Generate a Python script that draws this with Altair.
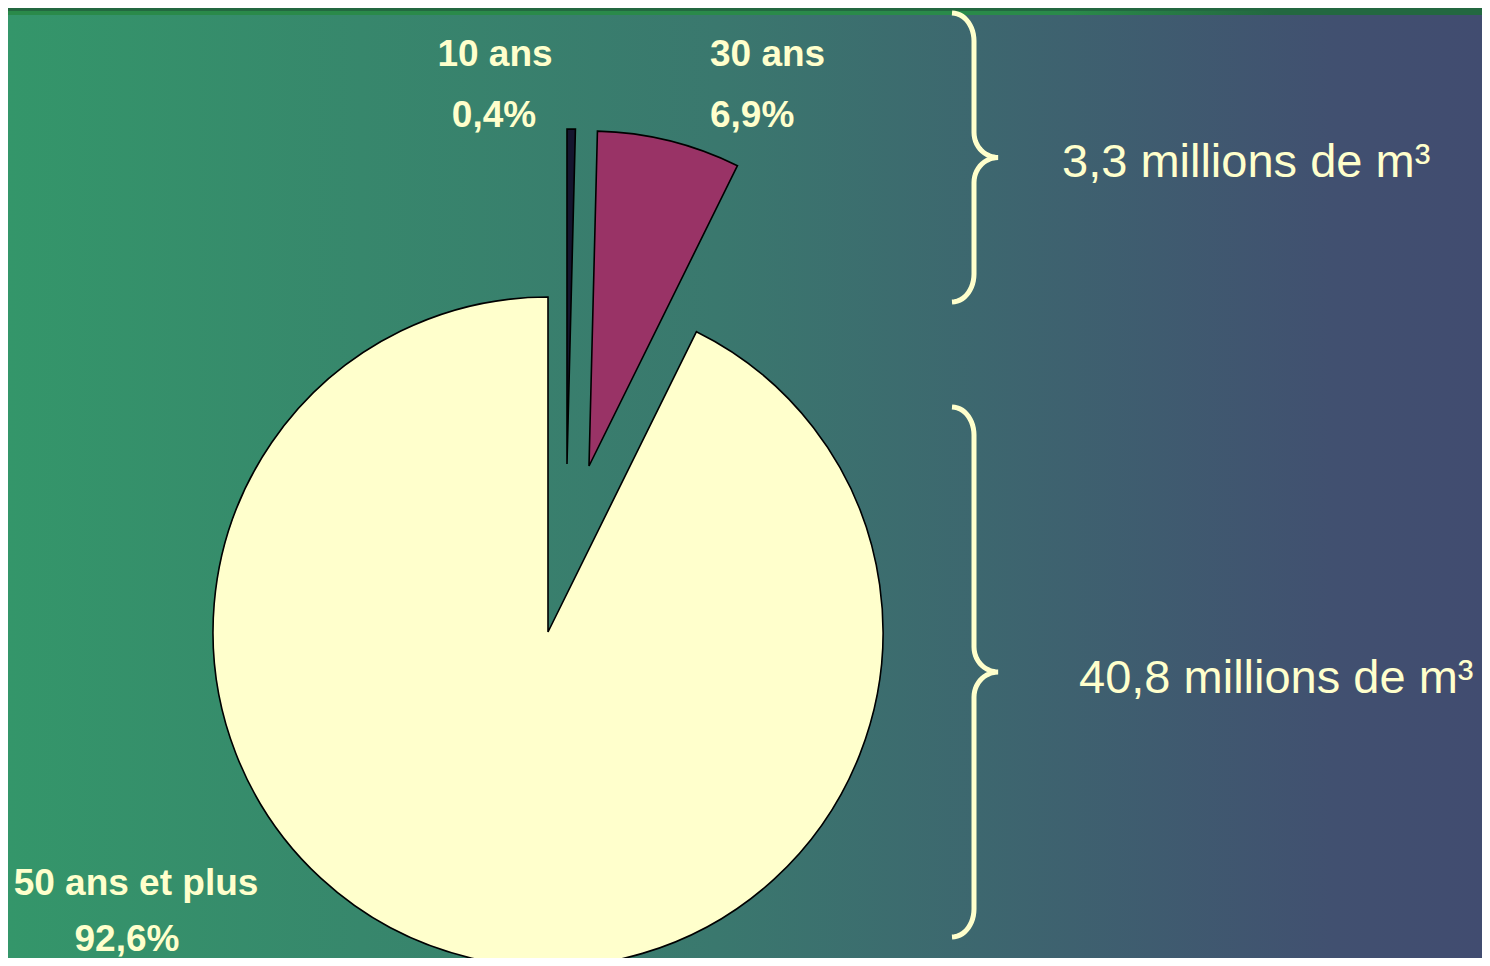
import altair as alt
import pandas as pd
import numpy as np

# ---------------- data ----------------
categories = ["10 ans", "30 ans", "50 ans et plus"]
shares = [0.4, 6.9, 92.6]               # % of volume
volume_groups = ["moins de 50 ans", "50 ans et plus"]
volumes = [3.3, 40.8]                    # millions de m3
volume_unit = "millions de m³"

# ---------------- style / layout ----------------
W, H = 1474, 950                          # fits inside the 1490x966 page with its 8px margin
OFF = 8                                   # page margin
FONT = "Liberation Sans"
CREAM = "#FFFFCC"
slice_colors = ["#15152e", "#993366", "#FFFFCC"]
R = 335
# centres of the (exploded) slices, in page pixels
slice_centres = [(567, 464), (589, 466), (548, 632)]
# label anchors in page pixels: (x, baseline name, baseline pct, align)
label_pos = [(495, 66, 127, "center"), (710, 66, 127, "left"), (136, 895, 951, "center")]
label_pct_x = [494, 710, 127]
volume_pos = [(1062, 177), (1079, 693)]
braces = [(13, 302), (407, 937)]

def fr(v):
    return f"{v:.1f}".replace(".", ",")

# ---------------- pie ----------------
total = float(sum(shares))
cum = np.cumsum(shares)
pie_df = pd.DataFrame({
    "cat": categories,
    "start": cum - np.array(shares),
    "end": cum,
    "cx": [c[0] - OFF for c in slice_centres],
    "cy": [c[1] - OFF for c in slice_centres],
})

pie = alt.Chart(pie_df).mark_arc(outerRadius=R, stroke="black", strokeWidth=1.6,
                                 strokeJoin="miter").encode(
    theta=alt.Theta("start:Q", scale=alt.Scale(domain=[0, total], range=[0, 2 * np.pi])),
    theta2="end:Q",
    x=alt.X("cx:Q", scale=None, axis=None),
    y=alt.Y("cy:Q", scale=None, axis=None),
    color=alt.Color("cat:N", scale=alt.Scale(domain=categories, range=slice_colors), legend=None),
)

# ---------------- background ----------------
one = pd.DataFrame({"a": [0]})
bg = alt.Chart(one).mark_rect(
    fill=alt.LinearGradient(
        gradient="linear", x1=0, x2=1, y1=0, y2=0,
        stops=[alt.GradientStop(color="#34966A", offset=0),
               alt.GradientStop(color="#3A786E", offset=0.48),
               alt.GradientStop(color="#415070", offset=0.9),
               alt.GradientStop(color="#414C70", offset=1)]),
).encode(x=alt.value(0), x2=alt.value(W), y=alt.value(0), y2=alt.value(H))

band = alt.Chart(one).mark_rect(fill="#236840").encode(
    x=alt.value(0), x2=alt.value(W), y=alt.value(0), y2=alt.value(11 - OFF))
band_line = alt.Chart(one).mark_rect(
    fill=alt.LinearGradient(
        gradient="linear", x1=0, x2=1, y1=0, y2=0,
        stops=[alt.GradientStop(color="#2A8A4A", offset=0),
               alt.GradientStop(color="#2A8A4A", offset=0.72),
               alt.GradientStop(color="#236840", offset=0.86),
               alt.GradientStop(color="#236840", offset=1)]),
).encode(x=alt.value(0), x2=alt.value(W), y=alt.value(11 - OFF), y2=alt.value(15 - OFF))

# ---------------- braces ----------------
def brace_points(x0, xm, xt, ytop, ybot, r_end=28, r_mid=25, n=14):
    ymid = (ytop + ybot) / 2
    t = np.linspace(0, np.pi / 2, n)
    pts = []
    pts += list(zip(x0 + (xm - x0) * np.sin(t), ytop + r_end * (1 - np.cos(t))))
    pts += list(zip(xt - (xt - xm) * np.cos(t), ymid - r_mid + r_mid * np.sin(t)))
    pts += list(zip(xt - (xt - xm) * np.sin(t), ymid + r_mid - r_mid * np.cos(t)))
    pts += list(zip(x0 + (xm - x0) * np.cos(t), ybot - r_end + r_end * np.sin(t)))
    return pts

rows = []
for b, (yt, yb) in enumerate(braces):
    for i, (px, py) in enumerate(brace_points(952, 974, 998, yt, yb)):
        rows.append({"b": b, "i": i, "x": px - OFF, "y": py - OFF})
brace_df = pd.DataFrame(rows)
brace = alt.Chart(brace_df).mark_line(color=CREAM, strokeWidth=5, strokeCap="butt").encode(
    x=alt.X("x:Q", scale=None, axis=None),
    y=alt.Y("y:Q", scale=None, axis=None),
    detail="b:N",
    order="i:Q",
)

# ---------------- labels ----------------
lab_rows = []
for k, cat in enumerate(categories):
    x, yb1, yb2, al = label_pos[k]
    lab_rows.append({"t": cat, "x": x - OFF, "y": yb1 - OFF, "al": al})
    lab_rows.append({"t": fr(shares[k]) + "%", "x": label_pct_x[k] - OFF, "y": yb2 - OFF, "al": al})
lab_df = pd.DataFrame(lab_rows)

def text_layer(df, align, size, weight):
    return alt.Chart(df).mark_text(
        align=align, baseline="alphabetic", font=FONT, fontSize=size,
        fontWeight=weight, color=CREAM,
    ).encode(
        x=alt.X("x:Q", scale=None, axis=None),
        y=alt.Y("y:Q", scale=None, axis=None),
        text="t:N",
    )

lab_center = text_layer(lab_df[lab_df.al == "center"], "center", 37, "bold")
lab_left = text_layer(lab_df[lab_df.al == "left"], "left", 37, "bold")

vol_df = pd.DataFrame({
    "t": [f"{fr(v)} {volume_unit}" for v in volumes],
    "x": [p[0] - OFF for p in volume_pos],
    "y": [p[1] - OFF for p in volume_pos],
})
vol = text_layer(vol_df, "left", 47, "normal")

chart = alt.layer(bg, band, band_line, pie, brace, lab_center, lab_left, vol).properties(
    width=W, height=H,
    autosize=alt.AutoSizeParams(type="none"),
    padding=0,
    background="#3A786E",
).configure_view(stroke=None)

chart.save("out.html", embed_options={"renderer": "svg", "actions": False})
